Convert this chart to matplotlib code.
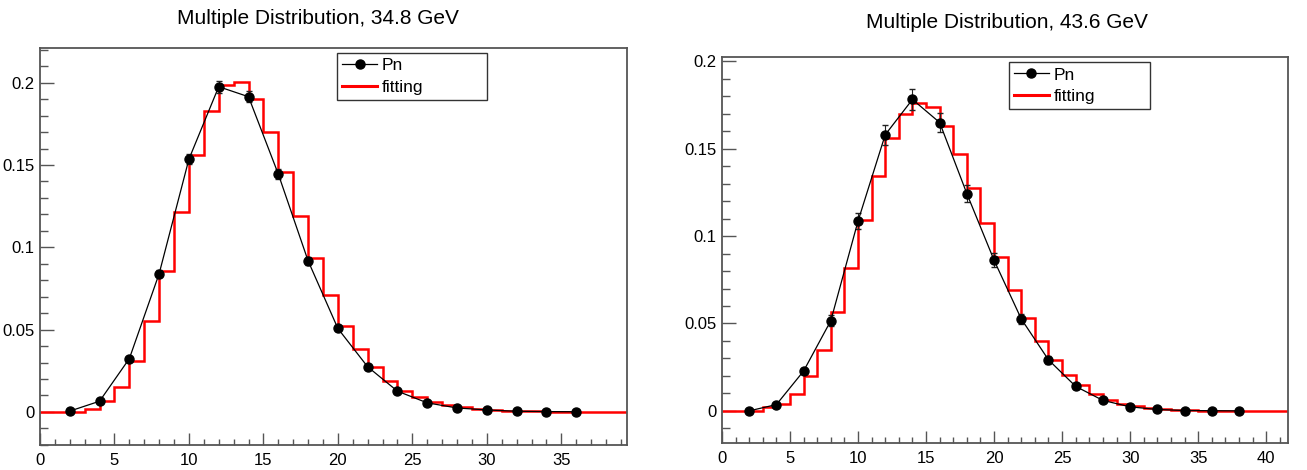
import numpy as np
import matplotlib
matplotlib.use("Agg")
import matplotlib.pyplot as plt
from matplotlib.ticker import MultipleLocator
from matplotlib.lines import Line2D

plt.rcParams['font.family'] = ['Liberation Sans', 'DejaVu Sans']

# 34.8 GeV
n_348 = [2, 4, 6, 8, 10, 12, 14, 16, 18, 20, 22, 24, 26, 28, 30, 32, 34, 36]
pn_348 = [0.0005, 0.0065, 0.0324, 0.084, 0.1536, 0.1976, 0.1915, 0.1445, 0.0918,
          0.0507, 0.0274, 0.0126, 0.0055, 0.0024, 0.0012, 0.0004, 0.0002, 0.0001]
err_348 = [0.0002, 0.0006, 0.0012, 0.002, 0.003, 0.0037, 0.0035, 0.003, 0.0024,
           0.0018, 0.0013, 0.0009, 0.0006, 0.0004, 0.0003, 0.0002, 0.0001, 0.0001]
fit_348 = [0, 0, 0, 0.002, 0.0065, 0.015, 0.031, 0.055, 0.0857, 0.1216,
           0.156, 0.183, 0.1985, 0.2005, 0.190, 0.170, 0.146, 0.119, 0.0936, 0.0709,
           0.052, 0.038, 0.027, 0.0186, 0.013, 0.009, 0.006, 0.004, 0.0028, 0.0018,
           0.0012, 0.0008, 0.0005, 0.0003, 0.0002, 0.0001, 0, 0, 0, 0]

# 43.6 GeV
n_436 = [2, 4, 6, 8, 10, 12, 14, 16, 18, 20, 22, 24, 26, 28, 30, 32, 34, 36, 38]
pn_436 = [0.0, 0.0036, 0.0228, 0.0516, 0.1086, 0.158, 0.1782, 0.165, 0.1243, 0.0862,
          0.0526, 0.0292, 0.014, 0.006, 0.0023, 0.0008, 0.0002, 0.0001, 0.0]
err_436 = [0.0003, 0.001, 0.0018, 0.003, 0.0045, 0.0058, 0.006, 0.0055, 0.0048, 0.004,
           0.003, 0.0022, 0.0015, 0.001, 0.0006, 0.0004, 0.0002, 0.0001, 0.0001]
fit_436 = [0, 0, 0, 0.002, 0.004, 0.0099, 0.0197, 0.035, 0.0564, 0.082,
           0.109, 0.1345, 0.156, 0.170, 0.176, 0.1736, 0.163, 0.147, 0.1275, 0.1076,
           0.0879, 0.069, 0.053, 0.0397, 0.0292, 0.0207, 0.0146, 0.0099, 0.0065, 0.0042,
           0.0027, 0.0017, 0.0011, 0.0007, 0.0004, 0.0002, 0.0001, 0, 0, 0, 0, 0]

titles = ["Multiple Distribution, 34.8 GeV", "Multiple Distribution, 43.6 GeV"]

frame_col = '#555555'

fig = plt.figure(figsize=(13.07, 4.70), dpi=100)
ax1 = fig.add_axes([0.0306, 0.0532, 0.449, 0.845])
ax2 = fig.add_axes([0.5524, 0.0574, 0.433, 0.821])


def draw(ax, n, pn, err, fit, xlim, ylim, title, tx, ty, leg_box):
    edges = np.arange(len(fit) + 1)
    ax.stairs(fit, edges, baseline=None, color='red', lw=1.8, zorder=2)
    ax.errorbar(n, pn, yerr=err, fmt='-o', color='black', mfc='black', ms=6.5,
                lw=0.9, ecolor='#222222', elinewidth=0.8, capsize=2, zorder=3)
    ax.set_xlim(*xlim)
    ax.set_ylim(*ylim)
    ax.xaxis.set_major_locator(MultipleLocator(5))
    ax.xaxis.set_minor_locator(MultipleLocator(1))
    ax.yaxis.set_major_locator(MultipleLocator(0.05))
    ax.yaxis.set_minor_locator(MultipleLocator(0.01))
    ax.yaxis.set_major_formatter(plt.FuncFormatter(lambda v, p: '%g' % round(v, 3)))
    ax.tick_params(axis='x', which='major', direction='in', length=8.5, width=1,
                   color=frame_col, labelsize=12, pad=6, top=False)
    ax.tick_params(axis='x', which='minor', direction='in', length=4.5, width=1,
                   color=frame_col, top=False)
    ax.tick_params(axis='y', which='major', direction='in', length=10, width=1,
                   color=frame_col, labelsize=12, pad=4, right=False)
    ax.tick_params(axis='y', which='minor', direction='in', length=5.5, width=1,
                   color=frame_col, right=False)
    for s in ax.spines.values():
        s.set_color(frame_col)
        s.set_linewidth(1.3)
    handles = [Line2D([], [], color='black', lw=0.9, marker='o', ms=6.5),
               Line2D([], [], color='red', lw=2.2)]
    leg = ax.legend(handles, ['Pn', 'fitting'],
                    loc='upper left', bbox_to_anchor=leg_box, mode='expand',
                    borderaxespad=0, fancybox=False, framealpha=1, fontsize=12.5,
                    handlelength=2.0, handletextpad=0.3, labelspacing=0.35,
                    borderpad=0.3)
    leg.get_frame().set_edgecolor('#333333')
    leg.get_frame().set_linewidth(1.0)
    fig.text(tx, ty, title, ha='center', va='center', fontsize=15)


draw(ax1, n_348, pn_348, err_348, fit_348, (0, 39.4), (-0.0201, 0.2212),
     titles[0], 318 / 1307, 1 - 18 / 470, (0.506, 0.869, 0.255, 0.118))
draw(ax2, n_436, pn_436, err_436, fit_436, (0, 41.6), (-0.0184, 0.2024),
     titles[1], 1007 / 1307, 1 - 23 / 470, (0.507, 0.873, 0.249, 0.114))

fig.savefig('out.png', dpi=100)
